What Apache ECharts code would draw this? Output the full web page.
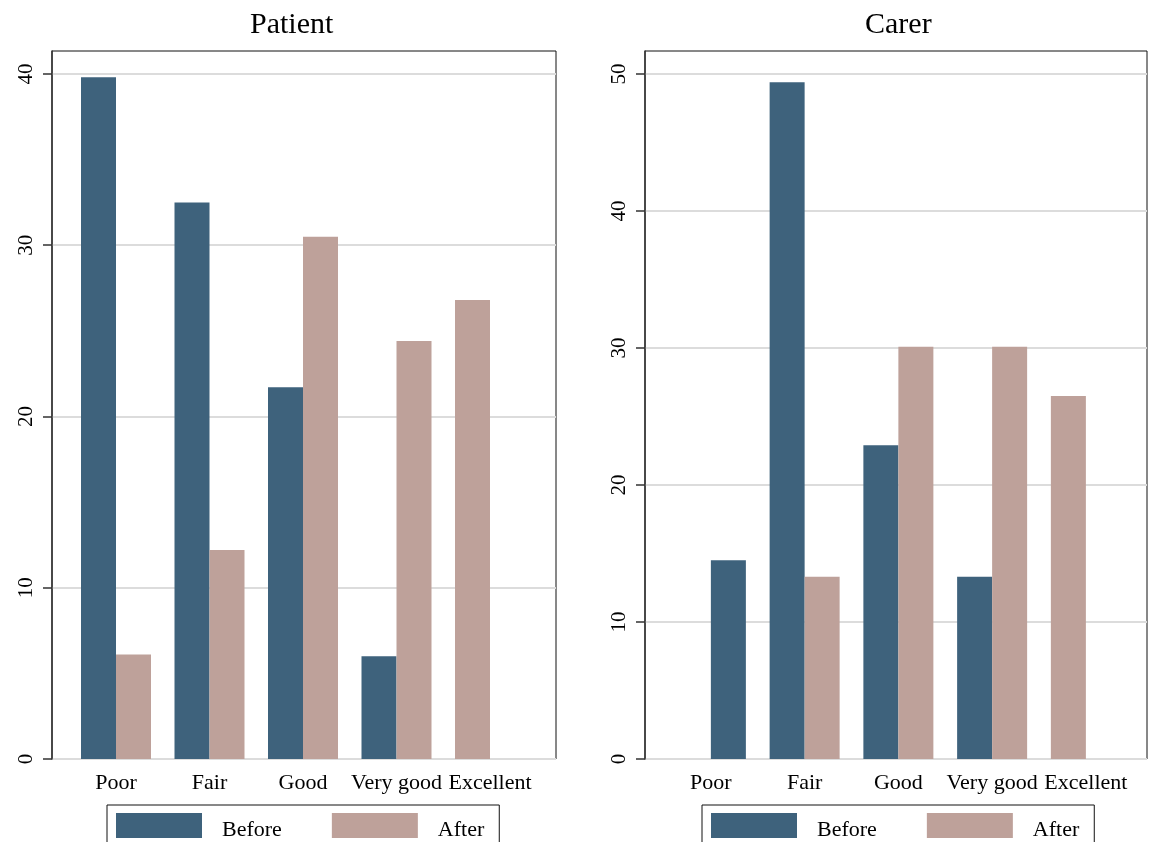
<!DOCTYPE html>
<html><head><meta charset="utf-8">
<script src="https://cdn.jsdelivr.net/npm/echarts@6/dist/echarts.min.js"></script>
<style>html,body{margin:0;padding:0;background:#fff}#c{width:1152px;height:842px}</style>
</head><body><div id="c"></div>
<script>
const categories = ['Poor', 'Fair', 'Good', 'Very good', 'Excellent'];
const patientBefore = [39.8, 32.5, 21.7, 6.0, null];
const patientAfter = [6.1, 12.2, 30.5, 24.4, 26.8];
const carerBefore = [14.5, 49.4, 22.9, 13.3, null];
const carerAfter = [null, 13.3, 30.1, 30.1, 26.5];
const patientTicks = [0, 10, 20, 30, 40];
const carerTicks = [0, 10, 20, 30, 40, 50];
const seriesNames = ['Before', 'After'];

const FONT = '"Liberation Serif", "Times New Roman", serif';
const C_BEFORE = '#3e627c';
const C_AFTER = '#bea19a';

// Stata layout: a group with a single bar shows it in the neighbouring slot
function slots(before, after) {
  const left = [], right = [];
  for (let i = 0; i < before.length; i++) {
    const b = before[i], a = after[i];
    if (b == null && a != null) { left.push({ value: a, itemStyle: { color: C_AFTER } }); right.push(null); }
    else if (a == null && b != null) { left.push(null); right.push({ value: b, itemStyle: { color: C_BEFORE } }); }
    else { left.push(b); right.push(a); }
  }
  return [left, right];
}

const panels = [
  { title: 'Patient', before: patientBefore, after: patientAfter, ticks: patientTicks, max: 41.34,
    frame: { left: 52, width: 504 }, bars: { left: 69.25, width: 467.5 }, legendLeft: 107, titleX: 245 },
  { title: 'Carer', before: carerBefore, after: carerAfter, ticks: carerTicks, max: 51.68,
    frame: { left: 645, width: 502 }, bars: { left: 664, width: 468.75 }, legendLeft: 702, titleX: 860 }
];

const option = { animation: false, backgroundColor: '#fff', title: [], grid: [], xAxis: [], yAxis: [], series: [], legend: [] };
panels.forEach((p, k) => {
  const gf = k * 2, gb = k * 2 + 1;
  option.title.push({ text: p.title, left: p.titleX, top: 5,
    textStyle: { fontFamily: FONT, fontSize: 30, fontWeight: 'normal', color: '#000' } });
  option.grid.push({ left: p.frame.left, width: p.frame.width, top: 51, height: 708, show: true,
    borderColor: '#111', borderWidth: 1, backgroundColor: 'transparent' });
  option.grid.push({ left: p.bars.left, width: p.bars.width, top: 51, height: 708 });
  option.xAxis.push({ gridIndex: gf, type: 'value', min: 0, max: 1, show: false });
  option.xAxis.push({ gridIndex: gb, type: 'category', data: categories,
    axisLine: { show: false }, axisTick: { show: false },
    axisLabel: { fontFamily: FONT, fontSize: 22, color: '#000', margin: 13, interval: 0 } });
  option.yAxis.push({ gridIndex: gf, type: 'value', min: 0, max: p.max, interval: 10,
    axisLine: { show: true, lineStyle: { color: '#333', width: 1.5 } },
    axisTick: { show: true, length: 9, lineStyle: { color: '#333', width: 1.5 }, customValues: p.ticks },
    axisLabel: { rotate: 90, margin: 15, fontFamily: FONT, fontSize: 21, color: '#000', customValues: p.ticks },
    splitLine: { show: true, lineStyle: { color: '#dcdcdc', width: 2 } } });
  option.yAxis.push({ gridIndex: gb, type: 'value', min: 0, max: p.max, show: false, splitLine: { show: false } });
  const [left, right] = slots(p.before, p.after);
  option.series.push({ name: seriesNames[0], type: 'bar', xAxisIndex: gb, yAxisIndex: gb, data: left,
    barWidth: 35, barGap: '0%', itemStyle: { color: C_BEFORE } });
  option.series.push({ name: seriesNames[1], type: 'bar', xAxisIndex: gb, yAxisIndex: gb, data: right,
    barWidth: 35, barGap: '0%', itemStyle: { color: C_AFTER } });
  option.legend.push({ data: seriesNames, left: p.legendLeft, top: 805, orient: 'horizontal',
    icon: 'rect', itemWidth: 86, itemHeight: 25, itemGap: 50,
    padding: [8, 15, 12, 9], borderColor: '#111', borderWidth: 1, selectedMode: false,
    formatter: '{s|\u200b}{t|{name}}',
    textStyle: { fontFamily: FONT, fontSize: 22, color: '#000',
      rich: {
        s: { fontSize: 22, lineHeight: 31, width: 0 },
        t: { fontFamily: FONT, fontSize: 22, color: '#000', lineHeight: 24, verticalAlign: 'bottom', padding: [0, 0, 0, 15] }
      } } });
});

const chart = echarts.init(document.getElementById('c'), null, { renderer: 'canvas' });
chart.setOption(option);
</script></body></html>
